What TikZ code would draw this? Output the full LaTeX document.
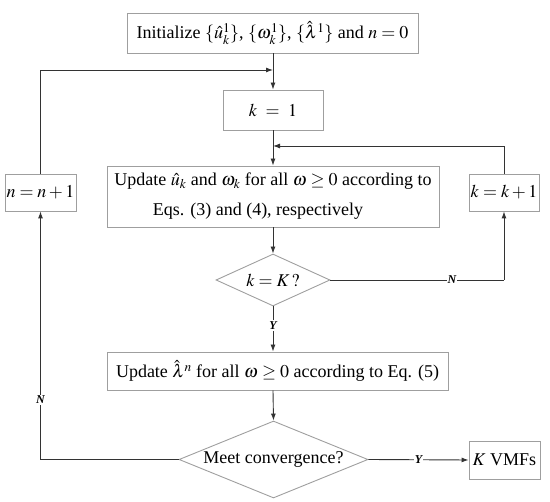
\documentclass[tikz,border=0pt]{standalone}
\usepackage{mathptmx}
\usepackage{fontspec}
\setmainfont{Liberation Serif}
\usetikzlibrary{arrows.meta,shapes.geometric}
\begin{document}
\begin{tikzpicture}[x=1pt,y=-1pt,
  box/.style={draw=gray!75,line width=0.9pt,fill=white,inner sep=0pt,font=\fontsize{18}{21}\selectfont},
  dia/.style={draw=gray!75,line width=0.9pt,fill=white,shape=diamond,inner sep=0pt,font=\fontsize{18}{21}\selectfont},
  conn/.style={draw=black!80,line width=0.9pt},
  arr/.style={conn,-{Latex[length=7pt,width=5pt]}},
  lab/.style={fill=white,inner sep=1pt,font=\fontsize{12}{14}\selectfont\bfseries\itshape}]
\useasboundingbox (0,0) rectangle (550,502);
\node[box,minimum width=291pt,minimum height=40pt] (init) at (272.5,33) {Initialize $\{\hat{u}_k^1\}$, $\{\omega_k^1\}$, $\{\hat{\lambda}^1\}$ and $n=0$};
\node[box,minimum width=100pt,minimum height=40pt] (k1) at (273,110) {$k\ =\ 1$};
\node[box,minimum width=332pt,minimum height=61pt,align=center,font=\fontsize{18}{30}\selectfont] (upd) at (273,196.5) {Update $\hat{u}_k$ and $\omega_k$ for all $\omega\geq 0$ according to\\Eqs. (3) and (4), respectively\hspace*{30pt}};
\node[box,minimum width=71pt,minimum height=37pt] (nn) at (40.5,192.5) {$n=n+1$};
\node[box,minimum width=70pt,minimum height=37pt] (kk) at (504,192.5) {$k=k+1$};
\node[dia,aspect=2.2,minimum width=114pt,minimum height=52pt] (d1) at (273,280) {$k=K\,?$};
\node[box,minimum width=341pt,minimum height=38pt] (lam) at (277.5,371) {Update $\hat{\lambda}^n$ for all $\omega\geq 0$ according to Eq. (5)};
\node[dia,aspect=2.45,minimum width=189pt,minimum height=77pt] (d2) at (273.5,459.5) {Meet convergence?};
\node[box,minimum width=71pt,minimum height=38pt] (kv) at (504.5,460) {$K$ VMFs};
\coordinate (top) at (273,70);
\coordinate (mid) at (273,146);
% main flow
\draw[arr] (init.south -| k1) -- (k1.north);
\draw[arr] (k1.south) -- (upd.north -| k1);
\draw[arr] (upd.south -| d1) -- (d1.north);
\draw[conn] (d1.south) -- (273,321) node[lab,below=-1pt] (y1) {Y};
\draw[arr] (y1.south) -- (d1.south |- lam.north);
\draw[arr] (d1.south |- lam.south) -- (d2.north);
% inner loop
\draw[conn] (d1.east) -- (kk.south |- d1.east) node[lab,pos=0.7] (n1) {N};
\draw[arr] (kk.south |- d1.east) -- (kk.south);
\draw[arr] (kk.north) |- (mid);
% outer loop
\draw[conn] (d2.west) -| (nn.south |- 0,400) node[lab] (n2) {N};
\draw[arr] (n2.north) -- (nn.south);
\draw[arr] (nn.north) |- (top);
% exit
\draw[arr] (d2.east) -- (kv.west) node[lab,pos=0.5] (y2) {Y};
\end{tikzpicture}
\end{document}
